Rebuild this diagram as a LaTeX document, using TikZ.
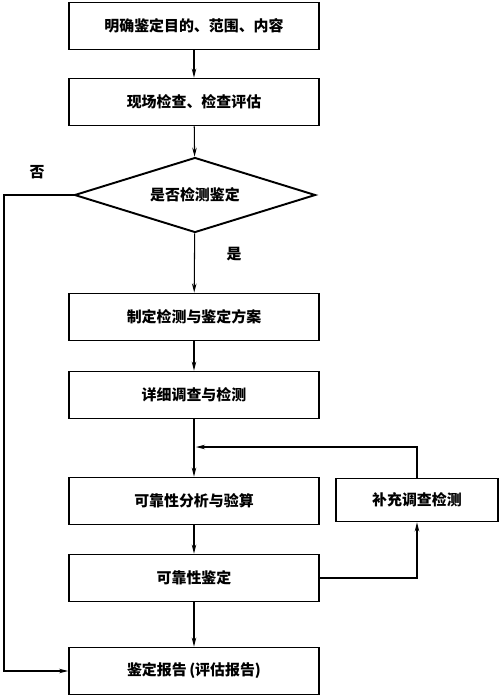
\documentclass[tikz,border=0pt]{standalone}
\usepackage{fontspec}
\usepackage{tikz}
\usetikzlibrary{shapes, arrows.meta, positioning}
\newfontfamily\cjk{Noto Sans CJK SC}

\begin{document}
\begin{tikzpicture}[x=0.02cm, y=-0.02cm,
        font=\cjk\bfseries\fontsize{8.5}{10}\selectfont,
        box/.style={draw, line width=1.1pt, minimum width=5cm, minimum height=0.94cm, inner sep=0pt},
        decision/.style={draw, diamond, aspect=3.2, line width=1.1pt, minimum width=4.82cm, minimum height=1.5cm, inner sep=0pt},
        link/.style={-{Stealth[length=1.8mm, width=0.9mm]}, line width=0.6pt}]
        \useasboundingbox (0,0) rectangle (500,698);
        % Main column
        \node[box] (goal) at (194,26) {明确鉴定目的、范围、内容};
        \node[box] (site) at (194,102) {现场检查、检查评估};
        \node[decision] (check) at (195,195) {是否检测鉴定};
        \node[box] (plan) at (194,317) {制定检测与鉴定方案};
        \node[box] (survey) at (194,395) {详细调查与检测};
        \node[box] (analysis) at (194,501) {可靠性分析与验算};
        \node[box] (assess) at (194,578) {可靠性鉴定};
        \node[box] (report) at (194,671) {鉴定报告\,(评估报告)};
        % Side box
        \node[box, minimum width=3.24cm, minimum height=0.86cm] (extra) at (417,500) {补充调查检测};
        % Labels
        \node (nolabel) at (37,172) {否};
        \node (yeslabel) at (234,254) {是};
        % Helper points
        \coordinate (nobend) at (4,195);
        \coordinate (join) at (196,447);
        % Arrows
        \draw[link] (goal) -- (site);
        \draw[link] (site) -- (check);
        \draw[link] (check) -- (plan);
        \draw[link] (plan) -- (survey);
        \draw[link] (survey) -- (analysis);
        \draw[link] (analysis) -- (assess);
        \draw[link] (assess) -- (report);
        \draw[link] (check.west) -- (nobend) |- (report.west);
        \draw[link] (assess.east) -| (extra.south);
        \draw[link] (extra.north) |- (join);
    \end{tikzpicture}
\end{document}
